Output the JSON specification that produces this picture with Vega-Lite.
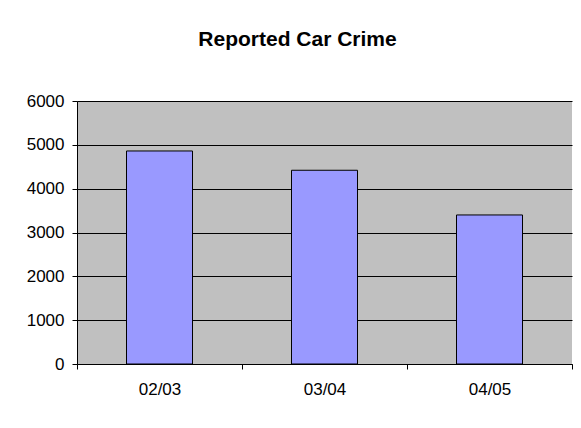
{
  "$schema": "https://vega.github.io/schema/vega-lite/v6.json",
  "width": 495,
  "height": 263,
  "autosize": {"type": "none"},
  "padding": {"left": 77, "top": 101, "right": 9, "bottom": 64},
  "background": "white",
  "title": {
    "text": "Reported Car Crime",
    "font": "Liberation Sans",
    "fontSize": 21,
    "fontWeight": "bold",
    "color": "black",
    "anchor": "middle",
    "frame": "group",
    "baseline": "alphabetic",
    "offset": 25,
    "dx": -27
  },
  "data": {
    "values": [
      {"year": "02/03", "crimes": 4860},
      {"year": "03/04", "crimes": 4420},
      {"year": "04/05", "crimes": 3400}
    ]
  },
  "mark": {"type": "bar", "fill": "#9999FF", "stroke": "black", "strokeWidth": 1, "width": {"band": 0.4}},
  "encoding": {
    "x": {
      "field": "year",
      "type": "nominal",
      "sort": null,
      "scale": {"paddingInner": 0, "paddingOuter": 0},
      "axis": {
        "title": null,
        "labelAngle": 0,
        "tickBand": "extent",
        "grid": false,
        "tickSize": 5,
        "labelPadding": 12,
        "labelFontSize": 17
      }
    },
    "y": {
      "field": "crimes",
      "type": "quantitative",
      "scale": {"domain": [0, 6000], "nice": false},
      "axis": {
        "title": null,
        "format": "d",
        "values": [0, 1000, 2000, 3000, 4000, 5000, 6000],
        "grid": true,
        "gridColor": "black",
        "gridOpacity": 1,
        "gridWidth": 1,
        "tickSize": 5,
        "labelPadding": 8,
        "labelFontSize": 17
      }
    }
  },
  "config": {
    "view": {"fill": "#C0C0C0", "stroke": null},
    "axis": {
      "domainColor": "black",
      "domainWidth": 1,
      "tickColor": "black",
      "tickWidth": 1,
      "labelColor": "black",
      "labelFont": "Liberation Sans"
    }
  }
}
